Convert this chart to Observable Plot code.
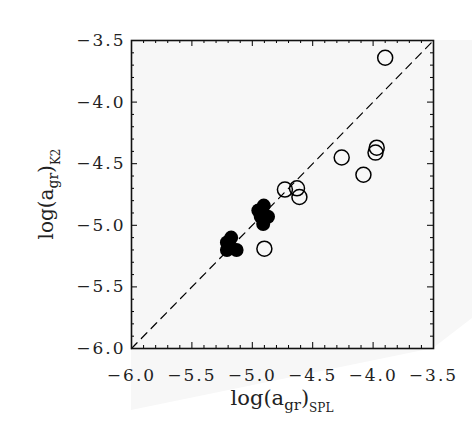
<!DOCTYPE html>
<html><head><meta charset="utf-8">
<script src="https://cdn.jsdelivr.net/npm/d3@7"></script>
<script src="https://cdn.jsdelivr.net/npm/@observablehq/plot@0.6"></script>
<style>
body{margin:0;background:#fff;}
#wrap{position:relative;width:472px;height:432px;}
#bg{position:absolute;left:0;top:0;width:472px;height:432px;background:#f7f7f7;clip-path:polygon(131px 40px,472px 40px,472px 318px,433px 348px,131px 410px);}
#chart{position:absolute;left:0;top:0;}
</style></head><body>
<div id="wrap"><div id="bg"></div><div id="chart"></div></div>
<script>
// open circles
const splOpen = [-3.90, -3.97, -3.98, -4.26, -4.08, -4.73, -4.63, -4.61, -4.90];
const k2Open  = [-3.64, -4.37, -4.41, -4.45, -4.59, -4.71, -4.70, -4.77, -5.19];
// filled circles
const splFilled = [-4.905, -4.95, -4.93, -4.87, -4.91, -5.175, -5.21, -5.21, -5.13, -5.19];
const k2Filled  = [-4.84, -4.88, -4.93, -4.93, -4.99, -5.10, -5.14, -5.20, -5.20, -5.17];
// one-to-one line
const lineX = [-6.0, -3.5];
const lineY = [-6.0, -3.5];
// ticks
const majorTicks = [-6.0, -5.5, -5.0, -4.5, -4.0, -3.5];
const minorTicks = [-5.9, -5.8, -5.7, -5.6, -5.4, -5.3, -5.2, -5.1, -4.9, -4.8, -4.7, -4.6,
                    -4.4, -4.3, -4.2, -4.1, -3.9, -3.8, -3.7, -3.6];

const W = 472, H = 432, mL = 131, mR = 39, mT = 40, mB = 84;
const innerW = W - mL - mR, innerH = H - mT - mB;
const fmt = d3.format(".1f");
const openData = splOpen.map((x, i) => ({x, y: k2Open[i]}));
const filledData = splFilled.map((x, i) => ({x, y: k2Filled[i]}));
const lineData = lineX.map((x, i) => ({x, y: lineY[i]}));
const FONT = "DejaVu Serif";

const plot = Plot.plot({
  width: W, height: H,
  marginLeft: mL, marginRight: mR, marginTop: mT, marginBottom: mB,
  style: {background: "transparent", fontFamily: FONT, fontSize: "17px", color: "#000"},
  x: {domain: [-6, -3.5]},
  y: {domain: [-6, -3.5]},
  marks: [
    Plot.frame({fill: "#f7f7f7"}),
    // inward ticks, bottom & top
    Plot.tickX(minorTicks, {x: d => d, insetTop: innerH - 3, stroke: "#000"}),
    Plot.tickX(minorTicks, {x: d => d, insetBottom: innerH - 3, stroke: "#000"}),
    Plot.tickX(majorTicks, {x: d => d, insetTop: innerH - 6, stroke: "#000"}),
    Plot.tickX(majorTicks, {x: d => d, insetBottom: innerH - 6, stroke: "#000"}),
    // inward ticks, left & right
    Plot.tickY(minorTicks, {y: d => d, insetRight: innerW - 3, stroke: "#000"}),
    Plot.tickY(minorTicks, {y: d => d, insetLeft: innerW - 3, stroke: "#000"}),
    Plot.tickY(majorTicks, {y: d => d, insetRight: innerW - 6, stroke: "#000"}),
    Plot.tickY(majorTicks, {y: d => d, insetLeft: innerW - 6, stroke: "#000"}),
    Plot.axisX(majorTicks, {tickSize: 0, tickPadding: 20, tickFormat: fmt, label: null, fill: "#222", fontSize: 17, style: "letter-spacing:2px"}),
    Plot.axisY(majorTicks, {tickSize: 0, tickPadding: 6, tickFormat: fmt, label: null, fill: "#222", fontSize: 17}),
    Plot.line(lineData, {x: "x", y: "y", stroke: "#000", strokeWidth: 1.2, strokeDasharray: "8,6"}),
    Plot.dot(openData, {x: "x", y: "y", r: 7.5, stroke: "#000", strokeWidth: 1.5, fill: "none"}),
    Plot.dot(filledData, {x: "x", y: "y", r: 7, fill: "#000", stroke: "none"}),
    Plot.frame({stroke: "#111", strokeWidth: 1.6})
  ]
});
document.getElementById("chart").appendChild(plot);

const svg = d3.select(plot);
// letter spacing on tick labels
svg.selectAll("g[aria-label='x-axis tick label'] text, g[aria-label='y-axis tick label'] text")
  .style("letter-spacing", "2px");

// x title
const xt = svg.append("text")
  .attr("x", mL + innerW / 2).attr("y", 405)
  .attr("text-anchor", "middle")
  .attr("font-family", FONT).attr("font-size", 21).attr("fill", "#222");
xt.append("tspan").text("log(a");
xt.append("tspan").attr("font-size", 15).attr("dy", 5).text("gr");
xt.append("tspan").attr("font-size", 21).attr("dy", -5).text(")");
xt.append("tspan").attr("font-size", 12).attr("dy", 7).text("SPL");
// y title
const yt = svg.append("text")
  .attr("transform", `translate(53,${mT + innerH / 2}) rotate(-90)`)
  .attr("text-anchor", "middle")
  .attr("font-family", FONT).attr("font-size", 20).attr("fill", "#222");
yt.append("tspan").text("log(a");
yt.append("tspan").attr("font-size", 14).attr("dy", 5).text("gr");
yt.append("tspan").attr("font-size", 20).attr("dy", -5).text(")");
yt.append("tspan").attr("font-size", 12).attr("dy", 7).text("K2");
</script>
</body></html>
